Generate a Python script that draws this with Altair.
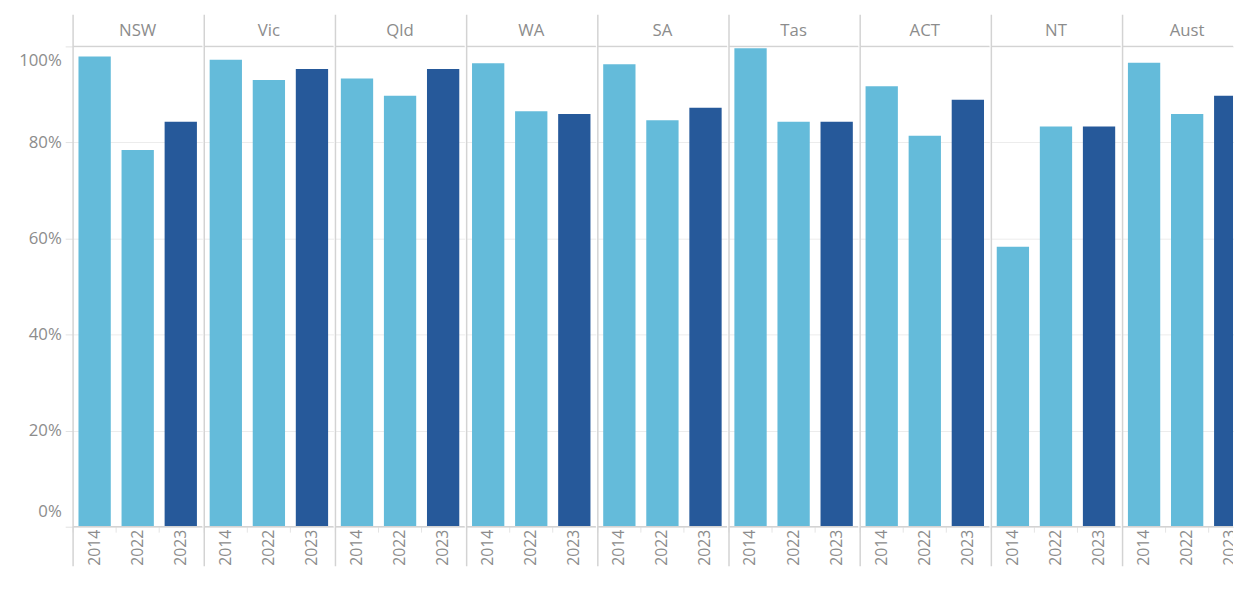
import altair as alt
import pandas as pd

states = ["NSW", "Vic", "Qld", "WA", "SA", "Tas", "ACT", "NT", "Aust"]
years = ["2014", "2022", "2023"]
v2014 = [97.9, 97.2, 93.3, 96.5, 96.3, 99.6, 91.7, 58.3, 96.6]
v2022 = [78.4, 93.0, 89.7, 86.5, 84.6, 84.3, 81.4, 83.3, 85.9]
v2023 = [84.3, 95.3, 95.3, 85.9, 87.2, 84.3, 88.9, 83.3, 89.7]
y_ticks = [0, 20, 40, 60, 80, 100]

rows = []
for i, s in enumerate(states):
    for y, vals in zip(years, [v2014, v2022, v2023]):
        rows.append({"state": s, "year": y, "value": vals[i]})
df = pd.DataFrame(rows)

LIGHT = "#64BBDA"
DARK = "#26599A"
GREY = "#8c8c8c"
LINE = "#d3d3d3"
FAINT = "#ececec"
FONT = "Open Sans"

STEP = 131          # full panel width
HEAD = 32           # header band height
PLOT = 487          # plot height
CELL_H = 559        # header + plot + label band
Y0 = HEAD + PLOT    # pixel of 0%
AXIS_W = 66
LAST_W = 1226 - AXIS_W - STEP * (len(states) - 1)


def panel(state, idx):
    last = idx == len(states) - 1
    first = idx == 0
    w = LAST_W if last else STEP
    base = alt.Chart(df).transform_filter(alt.datum.state == state)
    one = base.transform_filter(alt.datum.year == "2014")

    xscale = alt.Scale(domain=years, range=[0, STEP],
                       paddingInner=0.25, paddingOuter=0.125)
    if first:
        yaxis = alt.Axis(values=y_ticks, labelExpr="datum.value + '%'",
                         labelColor=GREY, labelFontSize=17, labelFont=FONT,
                         labelFlush=True, labelFlushOffset=-6, labelPadding=4,
                         grid=True, gridColor=FAINT, domain=False,
                         tickColor="#e2e2e2", tickSize=8, title=None,
                         minExtent=AXIS_W, maxExtent=AXIS_W)
    else:
        yaxis = alt.Axis(values=y_ticks, labels=False, ticks=False,
                         domain=False, grid=True, gridColor=FAINT, title=None,
                         minExtent=0, maxExtent=0)
    yscale = alt.Scale(domain=[0, 100], range=[Y0, HEAD], nice=False)

    bars = base.mark_bar(clip=last).encode(
        x=alt.X("year:N", sort=years, scale=xscale, axis=None),
        y=alt.Y("value:Q", scale=yscale, axis=yaxis),
        color=alt.Color("year:N", legend=None,
                        scale=alt.Scale(domain=years, range=[LIGHT, LIGHT, DARK])),
    )
    band_ticks = base.mark_rule(color="#e4e4e4", xOffset=-5.5).encode(
        x=alt.X("year:N", sort=years, scale=xscale, bandPosition=0),
        y=alt.value(Y0), y2=alt.value(Y0 + 6),
    )
    year_labels = base.mark_text(
        angle=270, align="right", baseline="middle", font=FONT,
        fontSize=16, color=GREY, clip=last
    ).encode(
        x=alt.X("year:N", sort=years, scale=xscale),
        y=alt.value(Y0 + 3),
        text="year:N",
    )
    vline = one.mark_rule(color=LINE, strokeWidth=1.5).encode(
        x=alt.value(0), y=alt.value(0), y2=alt.value(CELL_H)
    )
    hline_top = one.mark_rule(color=LINE, strokeWidth=1.5).encode(
        x=alt.value(0), x2=alt.value(w), y=alt.value(HEAD)
    )
    hline_bot = one.mark_rule(color=LINE, strokeWidth=1.5).encode(
        x=alt.value(0), x2=alt.value(w), y=alt.value(Y0)
    )
    head = one.mark_text(font=FONT, fontSize=17, color=GREY,
                         baseline="middle", align="center").encode(
        x=alt.value(STEP / 2), y=alt.value(HEAD / 2), text="state:N"
    )
    return alt.layer(bars, band_ticks, year_labels, vline, hline_top,
                     hline_bot, head).properties(width=w, height=CELL_H)


chart = alt.hconcat(*[panel(s, i) for i, s in enumerate(states)], spacing=0)
chart = chart.resolve_scale(x="independent", y="independent").configure_view(
    stroke=None
).properties(padding={"left": 0, "top": 2, "right": 0, "bottom": 0})

chart.save("out.html", embed_options={"renderer": "svg", "actions": False})
